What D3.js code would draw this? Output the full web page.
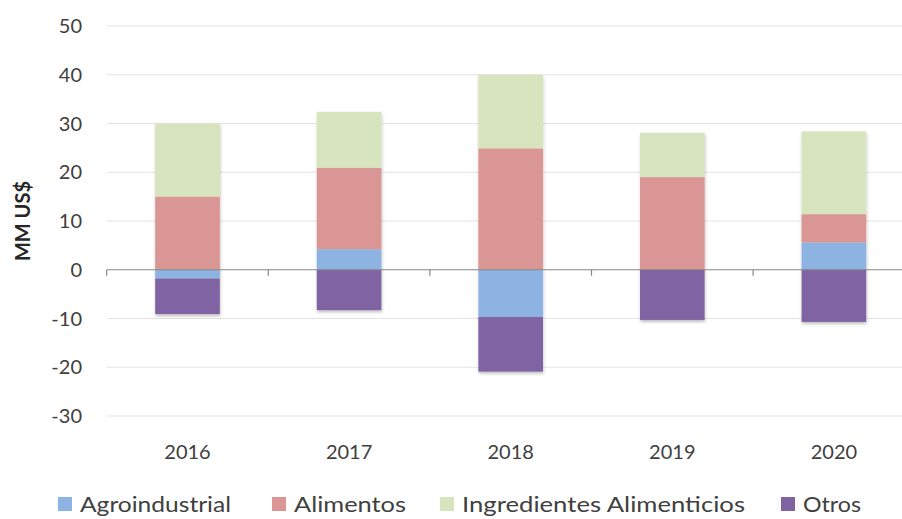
<!DOCTYPE html>
<html><head><meta charset="utf-8">
<script src="https://cdn.jsdelivr.net/npm/d3@7"></script>
<style>
html,body{margin:0;padding:0;background:#fff;}
svg{display:block;}
text{font-family:Lato,"Open Sans",sans-serif;}
</style></head>
<body><svg id="chart" width="902" height="519"></svg>
<script>
const years = ["2016","2017","2018","2019","2020"];
const seriesNames = ["Agroindustrial","Alimentos","Ingredientes Alimenticios","Otros"];
const agroindustrial = [-1.8, 4.2, -9.7, 0, 5.6];
const alimentos = [15.0, 16.7, 24.9, 19.0, 5.8];
const ingredientes = [15.0, 11.5, 15.1, 9.1, 17.0];
const otros = [-7.3, -8.3, -11.2, -10.3, -10.7];
const yTicks = [-30,-20,-10,0,10,20,30,40,50];
const colors = ["#8DB3E2","#D99694","#D7E4BD","#8064A2"];

const rows = years.map((y,i)=>({year:y,
  "Agroindustrial":agroindustrial[i],
  "Alimentos":alimentos[i],
  "Ingredientes Alimenticios":ingredientes[i],
  "Otros":otros[i]}));

const svg = d3.select("#chart");
const x = d3.scaleBand().domain(years).range([106.7, 914.7]).paddingInner(0.6).paddingOuter(0.3);
const y = d3.scaleLinear().domain([-30,50]).range([416,26]);

const defs = svg.append("defs");
const f = defs.append("filter").attr("id","sh").attr("x","-20%").attr("y","-20%").attr("width","140%").attr("height","140%");
f.append("feDropShadow").attr("dx",0.5).attr("dy",2).attr("stdDeviation",1.5).attr("flood-color","#000").attr("flood-opacity",0.25);

// gridlines
svg.append("g").selectAll("line").data(yTicks.filter(t=>t!==0)).join("line")
  .attr("x1",107).attr("x2",902).attr("y1",d=>y(d)).attr("y2",d=>y(d))
  .attr("stroke","#E3E3E3").attr("stroke-width",1);

// y labels
svg.append("g").selectAll("text").data(yTicks).join("text")
  .attr("x",82).attr("y",d=>y(d)).attr("dy","0.36em").attr("text-anchor","end")
  .attr("font-size",20).attr("fill","#404040").text(d=>d);

// y title
svg.append("text").attr("transform","translate(30,221) rotate(-90)")
  .attr("text-anchor","middle").attr("font-size",20).attr("font-weight","bold")
  .attr("fill","#262626").text("MM US$");

// stacked bars
const stack = d3.stack().keys(seriesNames).offset(d3.stackOffsetDiverging);
const stacked = stack(rows);
const gBars = svg.append("g").attr("filter","url(#sh)");
gBars.selectAll("g").data(stacked).join("g").attr("fill",(d,i)=>colors[i])
  .selectAll("rect").data(d=>d).join("rect")
  .attr("x",d=>x(d.data.year)).attr("width",x.bandwidth())
  .attr("y",d=>y(Math.max(d[0],d[1])))
  .attr("height",d=>Math.abs(y(d[0])-y(d[1])));

// zero axis
svg.append("line").attr("x1",107).attr("x2",902).attr("y1",y(0)).attr("y2",y(0))
  .attr("stroke","#868686").attr("stroke-width",1.2);
const step = x.step();
const bounds = d3.range(0,6).map(k=>106.7 + k*step);
svg.append("g").selectAll("line").data(bounds).join("line")
  .attr("x1",d=>d).attr("x2",d=>d).attr("y1",y(0)).attr("y2",y(0)+6)
  .attr("stroke","#868686").attr("stroke-width",1.2);

// x labels
svg.append("g").selectAll("text").data(years).join("text")
  .attr("x",d=>x(d)+x.bandwidth()/2).attr("y",452).attr("dy","0.36em")
  .attr("text-anchor","middle").attr("font-size",20).attr("fill","#404040").text(d=>d);

// legend
const legX = [58, 272, 440, 781];
const legW = [151, 112, 283, 58];
const leg = svg.append("g").selectAll("g").data(seriesNames).join("g")
  .attr("transform",(d,i)=>`translate(${legX[i]},504)`);
leg.append("rect").attr("x",0).attr("y",-7).attr("width",14).attr("height",14)
  .attr("fill",(d,i)=>colors[i]);
leg.append("text").attr("x",22).attr("y",0).attr("dy","0.36em")
  .attr("font-size",21).attr("fill","#404040")
  .attr("textLength",(d,i)=>legW[i]).attr("lengthAdjust","spacingAndGlyphs")
  .text(d=>d);
</script>
</body></html>
